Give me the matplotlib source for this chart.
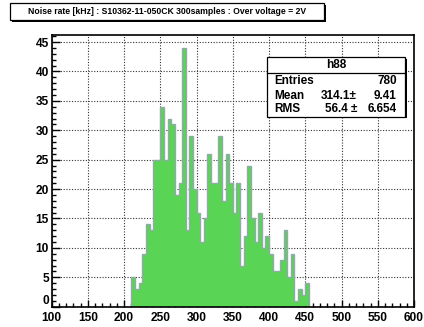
import numpy as np
import matplotlib
matplotlib.use('Agg')
import matplotlib.pyplot as plt
from matplotlib.patches import Rectangle
from matplotlib.ticker import MultipleLocator

# ---- data ----
counts = [5, 3, 4, 9, 14, 13, 25, 25, 34, 25, 32, 31, 19, 21, 44, 13, 29, 20,
          16, 11, 15, 26, 21, 21, 29, 18, 26, 21, 16, 21, 7, 12, 24, 15, 11,
          16, 10, 12, 9, 6, 6, 8, 13, 5, 9, 1, 3, 2, 4]
bin_start = 210
bin_width = 5
x_limits = [100, 600]
x_ticks = [100, 150, 200, 250, 300, 350, 400, 450, 500, 550, 600]
y_ticks = [0, 5, 10, 15, 20, 25, 30, 35, 40, 45]
title = "Noise rate [kHz] : S10362-11-050CK 300samples : Over voltage = 2V"
hist_name = "h88"
stat_names = ["Entries", "Mean", "RMS"]
stat_values = ["780", "314.1\u00b1", "56.4 \u00b1"]
stat_errors = ["", "9.41", "6.654"]

# ---- figure ----
W, H = 424, 327
fig = plt.figure(figsize=(W / 100, H / 100), dpi=100)
plt.rcParams['font.family'] = ['Liberation Sans', 'DejaVu Sans']

def fx(px):
    return px / W

def fy(py):
    return 1 - py / H

L, R, T, B = 51.7, 414.0, 35.0, 306.7
ax = fig.add_axes([fx(L), fy(B), (R - L) / W, (B - T) / H])

edges = bin_start + bin_width * np.arange(len(counts) + 1)
green = '#59d454'
edge_col = '#93aaaa'
ax.stairs(counts, edges, fill=True, color=green, zorder=2)
ax.stairs(counts, edges, baseline=0, color=edge_col, lw=1.0, zorder=3)

ax.set_xlim(*x_limits)
ax.set_ylim(0, max(counts) * 1.05)
ax.set_xticks(x_ticks)
ax.set_yticks(y_ticks)
ax.xaxis.set_minor_locator(MultipleLocator(10))
ax.yaxis.set_minor_locator(MultipleLocator(1))
ax.tick_params(which='both', direction='in', top=False, right=False,
               colors='black', width=1.0)
ax.tick_params(which='major', length=5.4)
ax.tick_params(which='minor', length=2.9)
ax.tick_params(axis='x', pad=3.5)
ax.tick_params(axis='y', pad=2)
for lab in ax.get_xticklabels() + ax.get_yticklabels():
    lab.set_fontsize(8.6)
    lab.set_fontweight('bold')
# lift the "0" label a touch so it does not collide with "100"
ax.get_yticklabels()[0].set_verticalalignment('bottom')

ax.grid(True, which='major', linestyle=(0, (1, 1.5)), color='#333333', lw=0.8, zorder=1)
ax.set_axisbelow(True)
for s in ax.spines.values():
    s.set_linewidth(1.2)
    s.set_zorder(4)

# ---- title box ----
def box(x0, y0, x1, y1, shadow=2.0):
    fig.add_artist(Rectangle((fx(x0 + shadow), fy(y1 + shadow)), (x1 - x0) / W, (y1 - y0) / H,
                             transform=fig.transFigure, facecolor='black', edgecolor='black', lw=0, zorder=5))
    fig.add_artist(Rectangle((fx(x0), fy(y1)), (x1 - x0) / W, (y1 - y0) / H,
                             transform=fig.transFigure, facecolor='white', edgecolor='black', lw=0.9, zorder=6))

box(10, 3, 324, 19.5)
fig.text(fx(167), fy(11.3), title, ha='center', va='center', fontsize=6.2,
         fontweight='bold', zorder=7)

# ---- stats box ----
box(267, 57, 405, 116.5)
fig.add_artist(plt.Line2D([fx(267), fx(405)], [fy(72.7), fy(72.7)],
                          transform=fig.transFigure, color='black', lw=0.9, zorder=7))
fig.text(fx(336), fy(65), hist_name, ha='center', va='center', fontsize=8.5,
         fontweight='bold', zorder=7)
rows_y = [81.5, 95.5, 109.5]
for name, val, err, yy in zip(stat_names, stat_values, stat_errors, rows_y):
    fig.text(fx(274), fy(yy), name, ha='left', va='center', fontsize=8.5,
             fontweight='bold', zorder=7)
    if err:
        fig.text(fx(357), fy(yy), val, ha='right', va='center', fontsize=8.5,
                 fontweight='bold', zorder=7)
        fig.text(fx(397), fy(yy), err, ha='right', va='center', fontsize=8.5,
                 fontweight='bold', zorder=7)
    else:
        fig.text(fx(397), fy(yy), val, ha='right', va='center', fontsize=8.5,
                 fontweight='bold', zorder=7)

fig.savefig('out.png', dpi=100)
